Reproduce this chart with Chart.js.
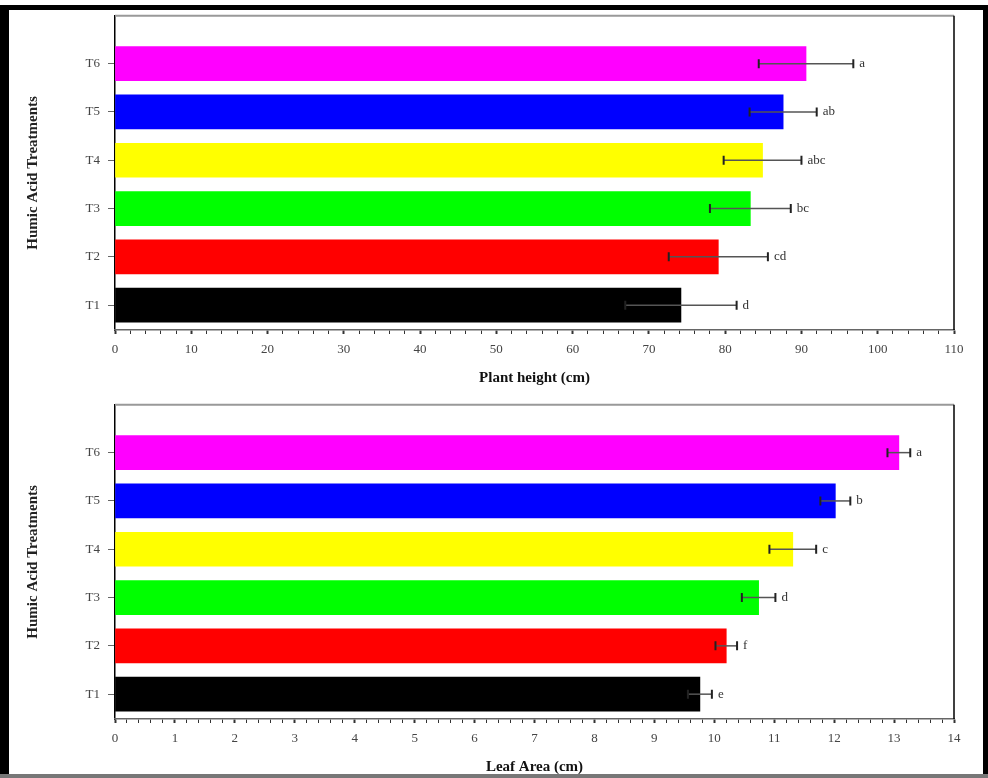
<!DOCTYPE html>
<html>
<head>
<meta charset="utf-8">
<script src="https://cdn.jsdelivr.net/npm/chart.js@4"></script>
<style>
  html, body { margin:0; padding:0; background:#fff; }
  body { width:988px; height:778px; position:relative; overflow:hidden; }
  canvas { position:absolute; left:0; }
  #c1 { top:0; }
  #c2 { top:389px; }
  .bd { position:absolute; z-index:5; }
</style>
</head>
<body>
<canvas id="c1" width="988" height="389"></canvas>
<canvas id="c2" width="988" height="389"></canvas>
<div class="bd" style="left:0;top:5px;width:988px;height:5px;background:#000"></div>
<div class="bd" style="left:0;top:5px;width:9px;height:773px;background:#000"></div>
<div class="bd" style="left:983px;top:5px;width:5px;height:773px;background:#000"></div>
<div class="bd" style="left:0;top:774px;width:988px;height:4px;background:#777"></div>
<script>
const categories = ['T1','T2','T3','T4','T5','T6'];
const barColors = ['#000000','#ff0000','#00ff00','#ffff00','#0000ff','#ff00ff'];

const plantHeight = [74.2, 79.1, 83.3, 84.9, 87.6, 90.6];
const plantErr = [7.3, 6.5, 5.3, 5.1, 4.4, 6.2];
const plantLetters = ['d','cd','bc','abc','ab','a'];

const leafArea = [9.76, 10.20, 10.74, 11.31, 12.02, 13.08];
const leafErr = [0.20, 0.18, 0.28, 0.39, 0.25, 0.19];
const leafLetters = ['e','f','d','c','b','a'];

const SERIF = "'Liberation Serif', 'Times New Roman', serif";

const errPlugin = {
  id: 'errbars',
  afterDatasetsDraw(chart, args, opts) {
    const ctx = chart.ctx;
    const xs = chart.scales.x, ys = chart.scales.y;
    const vals = opts.values, errs = opts.errs, lets = opts.letters;
    ctx.save();
    for (let i = 0; i < vals.length; i++) {
      const y = ys.getPixelForValue(i + 1);
      const x0 = xs.getPixelForValue(vals[i] - errs[i]);
      const x1 = xs.getPixelForValue(vals[i] + errs[i]);
      ctx.strokeStyle = '#555';
      ctx.lineWidth = 1.5;
      ctx.beginPath(); ctx.moveTo(x0, y); ctx.lineTo(x1, y); ctx.stroke();
      ctx.strokeStyle = '#222';
      ctx.lineWidth = 2;
      ctx.beginPath();
      ctx.moveTo(x0, y - 4.5); ctx.lineTo(x0, y + 4.5);
      ctx.moveTo(x1, y - 4.5); ctx.lineTo(x1, y + 4.5);
      ctx.stroke();
      ctx.fillStyle = '#333';
      ctx.font = '13px ' + SERIF;
      ctx.textAlign = 'left';
      ctx.textBaseline = 'middle';
      ctx.fillText(lets[i], x1 + 6, y);
    }
    const a = chart.chartArea;
    ctx.strokeStyle = '#999';
    ctx.lineWidth = 2;
    ctx.beginPath(); ctx.moveTo(a.left, a.top); ctx.lineTo(a.right, a.top); ctx.stroke();
    ctx.strokeStyle = '#000';
    ctx.lineWidth = 1.5;
    ctx.beginPath(); ctx.moveTo(a.right, a.top); ctx.lineTo(a.right, a.bottom); ctx.stroke();
    ctx.restore();
  }
};

function makeChart(id, values, errs, letters, xmax, step, xTitle) {
  const isInt = v => Math.abs(v - Math.round(v)) < 1e-6;
  return new Chart(document.getElementById(id), {
    type: 'bar',
    data: {
      datasets: [{
        data: values.map((v, i) => ({ x: v, y: i + 1 })),
        backgroundColor: barColors,
        borderWidth: 0,
        barThickness: 34
      }]
    },
    plugins: [errPlugin],
    options: {
      responsive: false,
      animation: false,
      indexAxis: 'y',
      layout: { padding: { left: 0, right: 34, top: 14, bottom: 0 } },
      plugins: {
        legend: { display: false },
        tooltip: { enabled: false },
        errbars: { values: values, errs: errs, letters: letters }
      },
      scales: {
        y: {
          type: 'linear',
          offset: false,
          min: 0.486,
          max: 6.99,
          afterBuildTicks: s => { s.ticks = categories.map((c, i) => ({ value: i + 1 })); },
          afterFit: s => { s.width = 115; },
          ticks: {
            callback: v => categories[Math.round(v) - 1],
            font: { family: SERIF, size: 13 },
            color: '#444',
            padding: 8
          },
          grid: { offset: false, drawOnChartArea: false, drawTicks: true, tickLength: 7, tickColor: '#666', tickWidth: 1 },
          border: { display: true, color: '#000', width: 1.5 },
          title: {
            display: true,
            text: 'Humic Acid Treatments',
            font: { family: SERIF, size: 15, weight: 'bold' },
            color: '#222',
            padding: { top: 24, bottom: 0 }
          }
        },
        x: {
          type: 'linear',
          min: 0,
          max: xmax,
          afterFit: s => { s.height = 59; },
          ticks: {
            stepSize: step,
            autoSkip: false,
            maxRotation: 0,
            minRotation: 0,
            callback: v => {
              if (xmax > 20) return (Math.round(v) % 10 === 0 && isInt(v)) ? Math.round(v) : '';
              return isInt(v) ? Math.round(v) : '';
            },
            font: { family: SERIF, size: 13 },
            color: '#444',
            padding: 8
          },
          grid: {
            drawOnChartArea: false,
            drawTicks: true,
            tickLength: 4,
            tickColor: '#333',
            tickWidth: c => (c.tick && c.tick.label !== '' ? 2 : 1)
          },
          border: { display: true, color: '#666', width: 1.5 },
          title: {
            display: true,
            text: xTitle,
            font: { family: SERIF, size: 15, weight: 'bold' },
            color: '#111',
            padding: { top: 2, bottom: 2 }
          }
        }
      }
    }
  });
}

makeChart('c1', plantHeight, plantErr, plantLetters, 110, 2, 'Plant height (cm)');
makeChart('c2', leafArea, leafErr, leafLetters, 14, 0.2, 'Leaf Area (cm)');
</script>
</body>
</html>
